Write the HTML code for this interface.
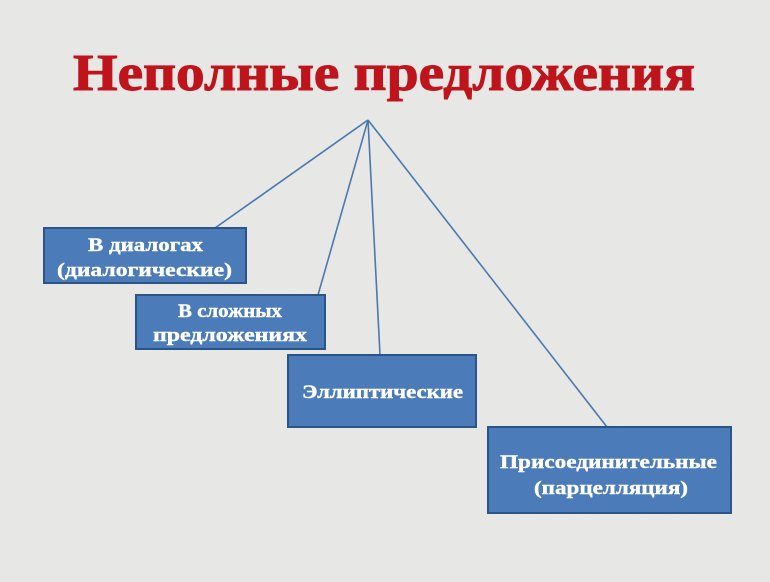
<!DOCTYPE html>
<html><head><meta charset="utf-8"><style>
html,body{margin:0;padding:0;}
body{width:770px;height:577px;background:#e6e6e4;overflow:hidden;}
</style></head><body>
<svg width="770" height="577" viewBox="0 0 770 577" xmlns="http://www.w3.org/2000/svg">
<defs>
<filter id="n"><feTurbulence type="fractalNoise" baseFrequency="0.9" numOctaves="2" seed="3"/><feColorMatrix values="0 0 0 0 0.85 0 0 0 0 0.85 0 0 0 0 0.85 0 0 0 0.6 0"/></filter>
</defs>
<rect width="770" height="577" fill="#e6e6e4"/>
<rect width="770" height="577" filter="url(#n)" opacity="0.5"/>
<text x="73" y="90" textLength="622" lengthAdjust="spacingAndGlyphs" font-family="Liberation Serif, serif" font-weight="bold" font-size="52" fill="#c0141c" stroke="#c0141c" stroke-width="1">Неполные предложения</text>
<g stroke="#4a78b0" stroke-width="1.6" fill="none">
<line x1="368" y1="120" x2="215" y2="228"/>
<line x1="368" y1="120" x2="318" y2="295"/>
<line x1="368" y1="120" x2="380" y2="355"/>
<line x1="368" y1="120" x2="607" y2="427"/>
</g>
<g fill="#4b7bb9" stroke="#2c5587" stroke-width="2">
<rect x="44" y="228" width="202" height="55"/>
<rect x="136" y="295" width="189" height="54"/>
<rect x="288" y="355" width="188" height="72"/>
<rect x="488" y="427" width="243" height="86"/>
</g>
<g font-family="Liberation Serif, serif" font-weight="bold" font-size="19" fill="#fff" stroke="#fff" stroke-width="0.4" lengthAdjust="spacingAndGlyphs">
<text x="88" y="251" textLength="115" lengthAdjust="spacingAndGlyphs">В диалогах</text>
<text x="57" y="276" textLength="175" lengthAdjust="spacingAndGlyphs">(диалогические)</text>
<text x="178" y="317" textLength="104" lengthAdjust="spacingAndGlyphs">В сложных</text>
<text x="153" y="341" textLength="154" lengthAdjust="spacingAndGlyphs">предложениях</text>
<text x="302" y="398" textLength="161" lengthAdjust="spacingAndGlyphs">Эллиптические</text>
<text x="500" y="468" textLength="217" lengthAdjust="spacingAndGlyphs">Присоединительные</text>
<text x="534" y="494" textLength="154" lengthAdjust="spacingAndGlyphs">(парцелляция)</text>
</g>
</svg>
</body></html>
